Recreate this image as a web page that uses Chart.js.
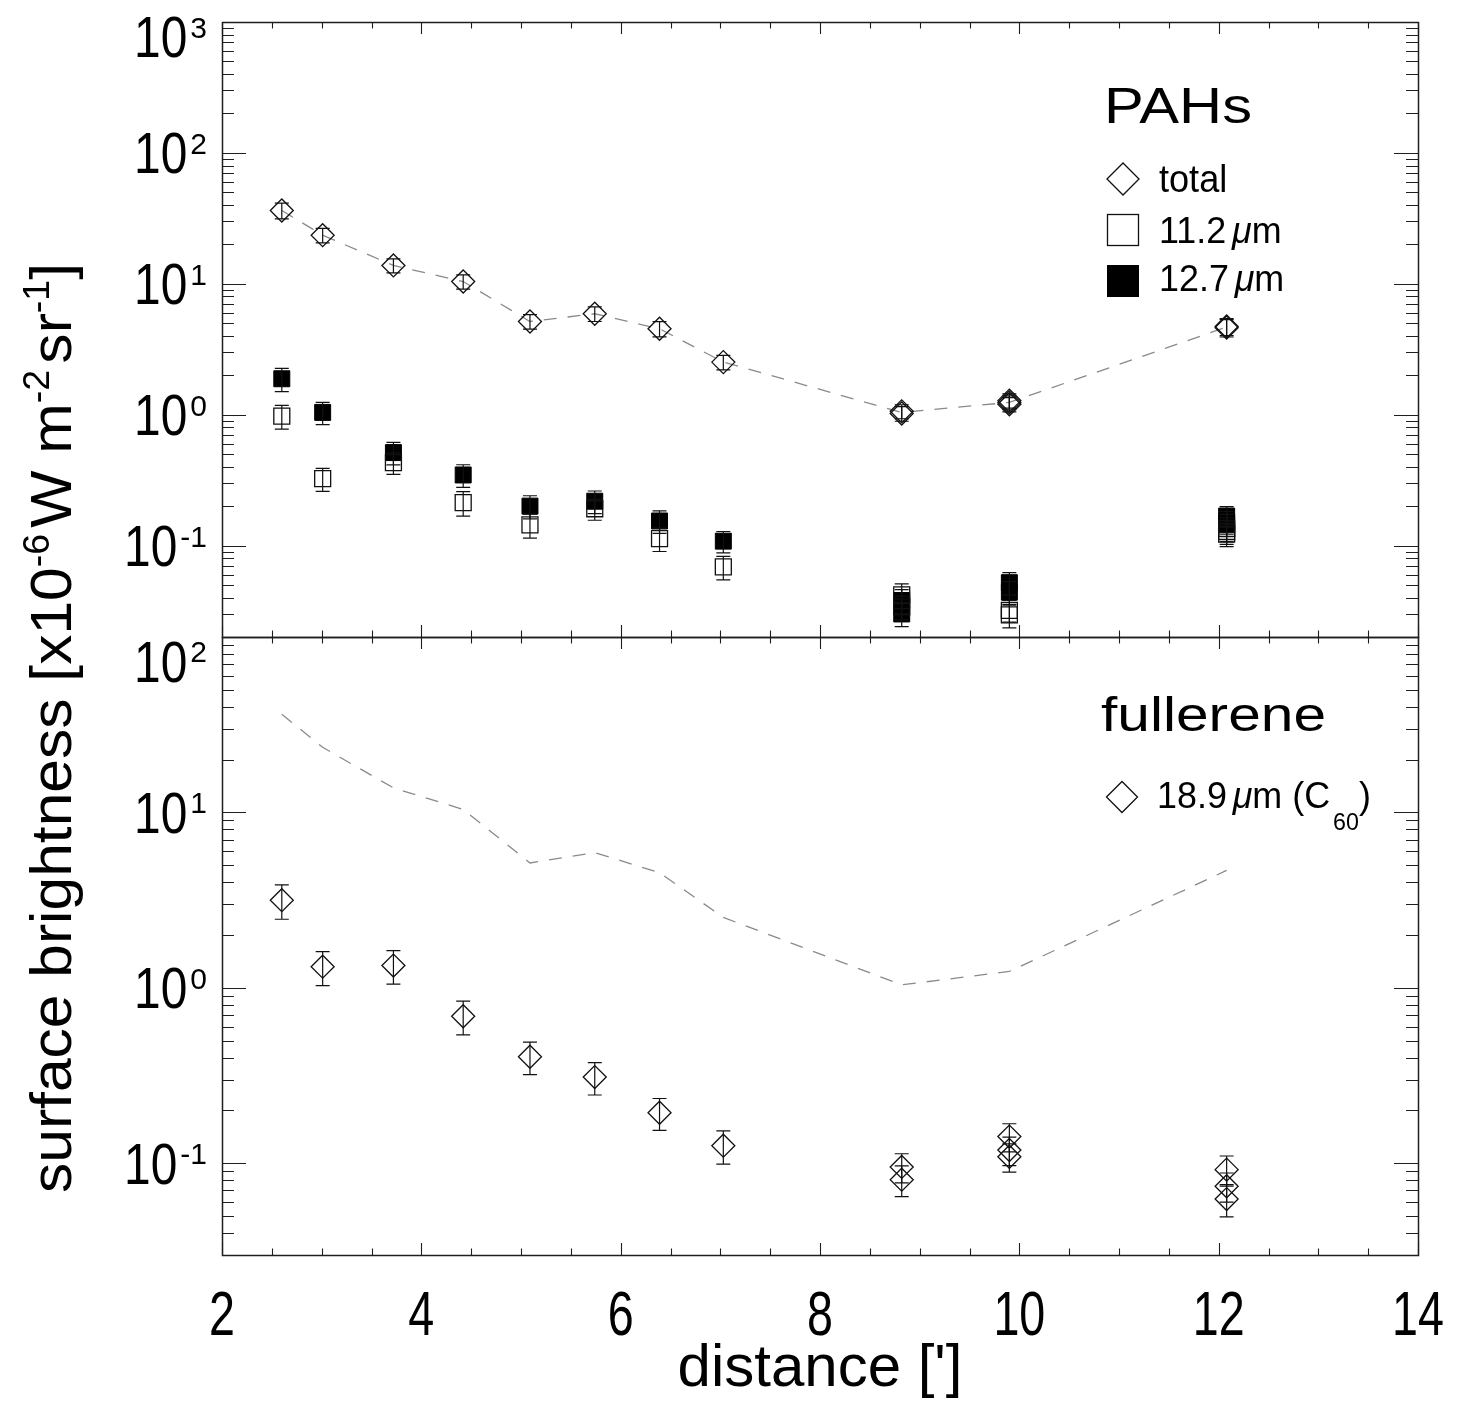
<!DOCTYPE html>
<html><head><meta charset="utf-8">
<script src="https://cdn.jsdelivr.net/npm/chart.js@4.4.0/dist/chart.umd.min.js"></script>
<style>
html,body{margin:0;padding:0;background:#fff;}
#wrap{position:relative;width:1457px;height:1411px;background:#fff;}
canvas{position:absolute;left:0;top:0;}
</style></head><body>
<div id="wrap"><canvas id="cTop" width="1457" height="1411"></canvas><canvas id="cBot" width="1457" height="1411"></canvas></div>
<script>
// ---------------- data ----------------
const xTickVals = [2, 4, 6, 8, 10, 12, 14];
const topTickExps = [-1, 0, 1, 2, 3];
const botTickExps = [-1, 0, 1, 2];

// dashed curve: total PAH brightness (shown in both panels)
const lineX = [2.60, 3.01, 3.72, 4.42, 5.09, 5.74, 6.39, 7.03, 8.82, 9.90, 12.08];
const totalLineY = [36.3, 23.5, 13.8, 10.4, 5.15, 5.9, 4.53, 2.52, 1.04, 1.24, 4.67];

// PAHs total (diamonds)
const totalX = [2.60, 3.01, 3.72, 4.42, 5.09, 5.74, 6.39, 7.03, 8.82, 8.82, 9.90, 9.90, 9.90, 12.08, 12.08];
const totalY = [36.3, 23.5, 13.8, 10.4, 5.15, 5.9, 4.53, 2.52, 1.06, 1.02, 1.28, 1.24, 1.20, 4.72, 4.62];
const totalErr = [5.0, 3.0, 1.7, 1.3, 0.65, 0.75, 0.6, 0.32, 0.13, 0.13, 0.16, 0.15, 0.15, 0.7, 0.7];

// 11.2 um (open squares)
const pah112X = [2.60, 3.01, 3.72, 4.42, 5.09, 5.74, 6.39, 7.03, 8.82, 8.82, 9.90, 9.90, 12.08, 12.08, 12.08];
const pah112Y = [0.975, 0.324, 0.43, 0.213, 0.144, 0.191, 0.113, 0.0687, 0.042, 0.034, 0.0295, 0.032, 0.135, 0.128, 0.122];
const pah112Err = [0.2, 0.065, 0.08, 0.045, 0.03, 0.035, 0.023, 0.014, 0.009, 0.007, 0.006, 0.006, 0.028, 0.026, 0.024];

// 12.7 um (filled squares)
const pah127X = [2.60, 3.01, 3.72, 4.42, 5.09, 5.74, 6.39, 7.03, 8.82, 8.82, 9.90, 9.90, 12.08, 12.08, 12.08];
const pah127Y = [1.88, 1.04, 0.513, 0.346, 0.200, 0.218, 0.154, 0.108, 0.038, 0.030, 0.052, 0.044, 0.168, 0.152, 0.145];
const pah127Err = [0.38, 0.2, 0.1, 0.068, 0.04, 0.043, 0.03, 0.02, 0.008, 0.006, 0.01, 0.009, 0.03, 0.03, 0.028];

// fullerene 18.9 um (diamonds)
const c60X = [2.60, 3.01, 3.72, 4.42, 5.09, 5.74, 6.39, 7.03, 8.82, 8.82, 9.90, 9.90, 9.90, 12.08, 12.08, 12.08];
const c60Y = [3.16, 1.32, 1.34, 0.689, 0.405, 0.31, 0.194, 0.126, 0.0953, 0.0806, 0.142, 0.119, 0.109, 0.092, 0.074, 0.0625];
const c60Err = [0.7, 0.29, 0.29, 0.15, 0.085, 0.065, 0.04, 0.027, 0.018, 0.016, 0.026, 0.022, 0.02, 0.018, 0.014, 0.013];

// ---------------- helpers ----------------
const FONT = '"Liberation Sans", Arial, Helvetica, sans-serif';
const pts = (xs, ys) => xs.map((x, i) => ({x: x, y: ys[i]}));

function font(size, italic) { return (italic ? 'italic ' : '') + size + 'px ' + FONT; }

function runsWidth(ctx, runs) {
  let w = 0;
  runs.forEach(r => { ctx.font = font(r.size, r.italic); w += ctx.measureText(r.t).width + (r.gap || 0); });
  return w;
}
function drawRuns(ctx, runs, x, y, sx) {
  ctx.save();
  ctx.translate(x, y);
  ctx.scale(sx, 1);
  ctx.textBaseline = 'alphabetic';
  ctx.textAlign = 'left';
  ctx.fillStyle = '#000';
  let cx = 0;
  runs.forEach(r => {
    ctx.font = font(r.size, r.italic);
    ctx.fillText(r.t, cx, r.dy || 0);
    cx += ctx.measureText(r.t).width + (r.gap || 0);
  });
  ctx.restore();
}

function drawFrame(chart, o) {
  const {ctx, chartArea: a} = chart;
  const xs = chart.scales.x, ys = chart.scales.y;
  ctx.save();
  ctx.strokeStyle = '#1e1e1e';
  ctx.lineWidth = 1.1;
  ctx.beginPath();
  for (let k = 0; k < xTickVals.length; k++) {
    const v0 = xTickVals[k];
    const sub = k < xTickVals.length - 1 ? [0, 0.5, 1, 1.5] : [0];
    sub.forEach((d, j) => {
      const px = Math.round(xs.getPixelForValue(v0 + d)) + 0.5;
      const L = j === 0 ? 12 : 6.5;
      ctx.moveTo(px, a.top); ctx.lineTo(px, a.top + L);
      ctx.moveTo(px, a.bottom); ctx.lineTo(px, a.bottom - L);
    });
  }
  const lo = Math.floor(Math.log10(ys.min)), hi = Math.ceil(Math.log10(ys.max));
  for (let d = lo; d <= hi; d++) {
    for (let m = 1; m <= 9; m++) {
      const v = m * Math.pow(10, d);
      if (v < ys.min * 0.999 || v > ys.max * 1.001) continue;
      const py = Math.round(ys.getPixelForValue(v)) + 0.5;
      const L = m === 1 ? 24 : 12;
      ctx.moveTo(a.left, py); ctx.lineTo(a.left + L, py);
      ctx.moveTo(a.right, py); ctx.lineTo(a.right - L, py);
    }
  }
  ctx.stroke();
  ctx.lineWidth = 1.5;
  ctx.strokeRect(Math.round(a.left) + 0.5, Math.round(a.top) + 0.5, Math.round(a.right - a.left), Math.round(a.bottom - a.top));
  ctx.restore();

  // y tick labels 10^n
  o.exps.forEach(e => {
    let cy = ys.getPixelForValue(Math.pow(10, e));
    if (o.shift && o.shift[e] !== undefined) cy += o.shift[e];
    const supTxt = e < 0 ? '-' + Math.abs(e) : String(e);
    ctx.save();
    ctx.fillStyle = '#000';
    ctx.textBaseline = 'alphabetic';
    ctx.font = font(30);
    const sw = ctx.measureText(supTxt).width;
    const right = 207;
    ctx.textAlign = 'left';
    ctx.fillText(supTxt, right - sw, cy + 1);
    ctx.font = font(57);
    ctx.translate(right - sw - 3, cy + 20.5);
    ctx.scale(0.84, 1);
    ctx.textAlign = 'right';
    ctx.fillText('10', 0, 0);
    ctx.restore();
  });

  // x tick labels (condensed), bottom panel only
  if (o.xLabels) {
    ctx.save();
    ctx.fillStyle = '#000';
    ctx.font = font(63);
    ctx.textAlign = 'center';
    ctx.textBaseline = 'alphabetic';
    xTickVals.forEach(v => {
      const px = xs.getPixelForValue(v);
      ctx.save();
      ctx.translate(px, 1335);
      ctx.scale(0.74, 1);
      ctx.fillText(String(v), 0, 0);
      ctx.restore();
    });
    ctx.restore();
  }
}

const errorBarPlugin = {
  id: 'errbars',
  afterDatasetsDraw(chart) {
    const {ctx, chartArea: a} = chart;
    const xs = chart.scales.x, ys = chart.scales.y;
    ctx.save();
    ctx.beginPath(); ctx.rect(a.left, a.top, a.right - a.left, a.bottom - a.top); ctx.clip();
    ctx.strokeStyle = '#111';
    ctx.lineWidth = 1.2;
    chart.data.datasets.forEach(ds => {
      if (!ds.errorBars) return;
      ds.data.forEach((p, i) => {
        const e = ds.errorBars[i];
        const px = xs.getPixelForValue(p.x);
        const yHi = ys.getPixelForValue(p.y + e);
        const yLo = ys.getPixelForValue(Math.max(p.y - e, 1e-6));
        ctx.beginPath();
        ctx.moveTo(px, yLo); ctx.lineTo(px, yHi);
        ctx.moveTo(px - 7, yLo); ctx.lineTo(px + 7, yLo);
        ctx.moveTo(px - 7, yHi); ctx.lineTo(px + 7, yHi);
        ctx.stroke();
      });
    });
    ctx.restore();
  }
};

function diamond(ctx, x, y, r) {
  ctx.beginPath();
  ctx.moveTo(x - r, y); ctx.lineTo(x, y - r); ctx.lineTo(x + r, y); ctx.lineTo(x, y + r); ctx.closePath();
  ctx.stroke();
}

const topDecor = {
  id: 'topDecor',
  afterDraw(chart) {
    drawFrame(chart, {exps: topTickExps, shift: {3: 14.5}});
    const ctx = chart.ctx;
    ctx.save();
    const head = [{t: 'PAHs', size: 50}];
    const hw = runsWidth(ctx, head);
    drawRuns(ctx, head, 1104, 123, 148 / hw);
    ctx.strokeStyle = '#111'; ctx.lineWidth = 1.3; ctx.fillStyle = '#000';
    diamond(ctx, 1123, 179, 16);
    ctx.strokeRect(1107.5, 214.5, 31, 31);
    ctx.fillRect(1107, 265, 32, 32);
    ctx.restore();
    drawRuns(ctx, [{t: 'total', size: 38}], 1159, 192, 0.95);
    drawRuns(ctx, [{t: '11.2', size: 37, gap: 6}, {t: 'μ', size: 37, italic: true}, {t: 'm', size: 37}], 1159, 243, 0.97);
    drawRuns(ctx, [{t: '12.7', size: 37, gap: 6}, {t: 'μ', size: 37, italic: true}, {t: 'm', size: 37}], 1159, 291, 0.97);
  }
};

const botDecor = {
  id: 'botDecor',
  afterDraw(chart) {
    drawFrame(chart, {exps: botTickExps, shift: {2: 24}, xLabels: true});
    const ctx = chart.ctx;
    const head = [{t: 'fullerene', size: 48}];
    const hw = runsWidth(ctx, head);
    drawRuns(ctx, head, 1101, 731, 225 / hw);
    ctx.save();
    ctx.strokeStyle = '#111'; ctx.lineWidth = 1.3;
    diamond(ctx, 1122, 797, 15.5);
    ctx.restore();
    drawRuns(ctx, [
      {t: '18.9', size: 37, gap: 6}, {t: 'μ', size: 37, italic: true}, {t: 'm (C', size: 37, gap: 3},
      {t: '60', size: 24, dy: 22}, {t: ')', size: 37}
    ], 1157, 808, 0.97);

    const runs = [
      {t: 'surface brightness [x10', size: 58}, {t: '-6', size: 36, dy: -22, gap: 6},
      {t: 'W m', size: 58}, {t: '-2', size: 36, dy: -22, gap: 6},
      {t: 'sr', size: 58}, {t: '-1', size: 36, dy: -22}, {t: ']', size: 58}
    ];
    const w = runsWidth(ctx, runs);
    const target = 930;
    ctx.save();
    ctx.translate(71, 728);
    ctx.rotate(-Math.PI / 2);
    drawRuns(ctx, runs, -target / 2, 0, target / w);
    ctx.restore();
  }
};

function makeOptions(pad, yMin, yMax, showX) {
  const x = {
    type: 'linear', min: 2, max: 14, display: showX,
    afterBuildTicks: s => { s.ticks = xTickVals.map(v => ({value: v})); },
    grid: {display: false, drawTicks: false},
    border: {display: false},
    ticks: {display: false},
    title: {display: showX, text: "distance [']", font: {family: FONT, size: 60}, color: '#000', padding: {top: 0, bottom: 6}}
  };
  if (showX) x.afterFit = s => { s.height = 156; s.paddingLeft = 0; s.paddingRight = 0; };
  return {
    responsive: false,
    animation: false,
    devicePixelRatio: 1,
    layout: {padding: pad},
    plugins: {legend: {display: false}, tooltip: {enabled: false}},
    scales: {
      x: x,
      y: {type: 'logarithmic', min: yMin, max: yMax, display: false}
    }
  };
}

const lineStyle = {
  showLine: true, pointRadius: 0, borderColor: '#8a8a8a', borderWidth: 1.3,
  borderDash: [13, 11], fill: false, tension: 0
};

new Chart(document.getElementById('cTop'), {
  type: 'scatter',
  data: {
    datasets: [
      {label: 'total', data: pts(totalX, totalY), errorBars: totalErr, pointStyle: 'rectRot', pointRadius: 11.5,
       borderColor: '#111', backgroundColor: 'rgba(0,0,0,0)', pointBorderWidth: 1.3},
      {label: '11.2 μm', data: pts(pah112X, pah112Y), errorBars: pah112Err, pointStyle: 'rect', pointRadius: 11.3,
       borderColor: '#111', backgroundColor: 'rgba(0,0,0,0)', pointBorderWidth: 1.3},
      {label: '12.7 μm', data: pts(pah127X, pah127Y), errorBars: pah127Err, pointStyle: 'rect', pointRadius: 11.3,
       borderColor: '#000', backgroundColor: '#000', pointBorderWidth: 1},
      Object.assign({label: 'total (line)', data: pts(lineX, totalLineY)}, lineStyle)
    ]
  },
  options: makeOptions({left: 222, right: 39, top: 22, bottom: 1411 - 637}, 0.02, 1000, false),
  plugins: [errorBarPlugin, topDecor]
});

new Chart(document.getElementById('cBot'), {
  type: 'scatter',
  data: {
    datasets: [
      {label: '18.9 μm (C60)', data: pts(c60X, c60Y), errorBars: c60Err, pointStyle: 'rectRot', pointRadius: 11.5,
       borderColor: '#111', backgroundColor: 'rgba(0,0,0,0)', pointBorderWidth: 1.3},
      Object.assign({label: 'total PAHs (line)', data: pts(lineX, totalLineY)}, lineStyle)
    ]
  },
  options: makeOptions({left: 222, right: 39, top: 637, bottom: 0}, 0.03, 100, true),
  plugins: [errorBarPlugin, botDecor]
});
</script>
</body></html>
